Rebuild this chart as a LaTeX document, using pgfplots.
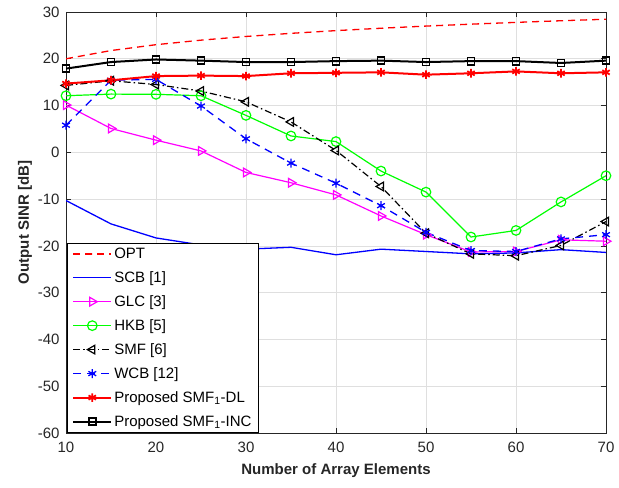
\documentclass[border=0pt]{standalone}
\usepackage{fontspec}
\setmainfont{Liberation Sans}
\usepackage{pgfplots}
\pgfplotsset{compat=1.18}
\definecolor{txt}{RGB}{38,38,38}
\definecolor{gridc}{RGB}{223,223,223}
\definecolor{mblue}{RGB}{0,0,255}
\definecolor{mred}{RGB}{255,0,0}
\definecolor{mmag}{RGB}{255,0,255}
\definecolor{mgreen}{RGB}{0,255,0}
\begin{document}
\begin{tikzpicture}
\begin{axis}[
    scale only axis,
    width=540pt, height=421pt,
    xmin=10, xmax=70, ymin=-60, ymax=30,
    xtick={10,20,...,70}, ytick={-60,-50,...,30},
    tick align=inside, major tick length=5pt,
    xtick pos=both, ytick pos=both,
    grid=major, major grid style={gridc, line width=0.6pt},
    axis line style={txt, line width=0.6pt},
    tick style={txt, line width=0.6pt},
    every tick label/.append style={font=\fontsize{15}{17}\selectfont, text=txt},
    xticklabel style={yshift=-5pt},
    yticklabel style={xshift=-3pt},
    /pgf/number format/assume math mode=true,
    xlabel={\textbf{Number of Array Elements}},
    ylabel={\textbf{Output SINR [dB]}},
    label style={font=\fontsize{15}{17}\selectfont, text=txt},
    xlabel style={yshift=-5pt},
    ylabel style={yshift=-1pt},
    legend cell align=left,
    legend style={at={(rel axis cs:0,0)}, anchor=south west, xshift=1pt,
        font=\fontsize{15}{17}\selectfont, line width=0.6pt,
        inner xsep=5pt, inner ysep=3pt, row sep=7.6pt},
    legend image code/.code={\draw[mark repeat=2,mark phase=2,#1] plot coordinates {(0pt,0pt) (19pt,0pt) (38pt,0pt)};},
]
% OPT
\addplot[mred, line width=1.3pt, dash pattern=on 7pt off 5pt] coordinates {
(10,20.00) (15,21.76) (20,23.01) (25,23.98) (30,24.77) (35,25.44) (40,26.02)
(45,26.53) (50,26.99) (55,27.40) (60,27.78) (65,28.13) (70,28.45)};
% SCB
\addplot[mblue, line width=1.3pt] coordinates {
(10,-10.3) (15,-15.3) (20,-18.3) (25,-19.8) (30,-20.7) (35,-20.3) (40,-21.9)
(45,-20.7) (50,-21.2) (55,-21.7) (60,-21.5) (65,-20.8) (70,-21.4)};
% GLC
\addplot[mmag, line width=1.2pt, mark=triangle, mark size=5pt, mark options={rotate=-90, solid}] coordinates {
(10,10.1) (15,5.1) (20,2.6) (25,0.3) (30,-4.3) (35,-6.5) (40,-9.1)
(45,-13.6) (50,-17.6) (55,-21.3) (60,-21.2) (65,-18.7) (70,-19.0)};
% HKB
\addplot[mgreen, line width=1.2pt, mark=o, mark size=4.8pt] coordinates {
(10,12.1) (15,12.45) (20,12.4) (25,12.1) (30,7.9) (35,3.5) (40,2.3)
(45,-4.0) (50,-8.5) (55,-18.1) (60,-16.7) (65,-10.6) (70,-5.0)};
% SMF
\addplot[black, line width=1.2pt, dash pattern=on 7pt off 3pt on 1.5pt off 3pt, mark=triangle, mark size=5pt, mark options={rotate=90, solid}] coordinates {
(10,14.3) (15,15.3) (20,14.5) (25,13.1) (30,10.8) (35,6.5) (40,0.4)
(45,-7.3) (50,-17.3) (55,-21.7) (60,-22.1) (65,-19.9) (70,-14.8)};
% WCB
\addplot[mblue, line width=1.3pt, dash pattern=on 8pt off 6pt, mark=asterisk, mark size=4.5pt, mark options={solid}] coordinates {
(10,5.8) (15,15.4) (20,15.6) (25,9.9) (30,2.9) (35,-2.3) (40,-6.6)
(45,-11.4) (50,-17.1) (55,-21.0) (60,-21.2) (65,-18.5) (70,-17.6)};
% Proposed DL
\addplot[mred, line width=2pt, mark=asterisk, mark size=4.3pt, mark options={solid, line width=1.8pt}] coordinates {
(10,14.7) (15,15.4) (20,16.3) (25,16.4) (30,16.3) (35,16.9) (40,17.0)
(45,17.1) (50,16.6) (55,16.9) (60,17.3) (65,16.9) (70,17.1)};
% Proposed INC
\addplot[black, line width=2pt, mark=square, mark size=3.6pt, mark options={solid, rounded corners=2pt, line width=1.6pt}] coordinates {
(10,17.9) (15,19.3) (20,19.85) (25,19.6) (30,19.3) (35,19.3) (40,19.5)
(45,19.6) (50,19.3) (55,19.5) (60,19.5) (65,19.1) (70,19.6)};
\legend{OPT, SCB [1], GLC [3], HKB [5], SMF [6], WCB [12], Proposed SMF\textsubscript{1}-DL, Proposed SMF\textsubscript{1}-INC}
\end{axis}
\path ([xshift=-66pt,yshift=-54pt]current axis.south west) rectangle ([xshift=13pt,yshift=12pt]current axis.north east);
\end{tikzpicture}
\end{document}
